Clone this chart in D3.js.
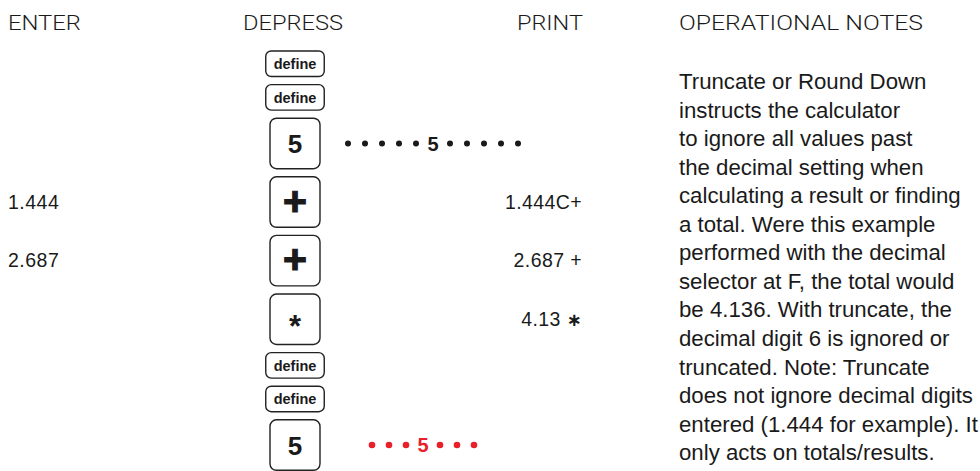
<!DOCTYPE html>
<html><head><meta charset="utf-8">
<script src="https://cdn.jsdelivr.net/npm/d3@7"></script>
<style>html,body{margin:0;padding:0;background:#fff;}svg{display:block;}</style>
</head><body>
<svg id="c" width="980" height="471"></svg>
<script>
// ---- data ----
const headers = ["ENTER", "DEPRESS", "PRINT", "OPERATIONAL NOTES"];
const keys = ["define", "define", "5", "+", "+", "*", "define", "define", "5"];
const keySizes = ["small", "small", "large", "large", "large", "large", "small", "small", "large"];
const enterValues = ["", "", "", "1.444", "2.687", "", "", "", ""];
const printValues = ["", "", "", "1.444C+", "2.687 +", "4.13 ∗", "", "", ""];
const dotRows = [
  {row: 2, pattern: "•••••5•••••", color: "#1a1a1a"},
  {row: 8, pattern: "•••5•••", color: "#e8202a"}
];
const notes = [
  "Truncate or Round Down",
  "instructs the calculator",
  "to ignore all values past",
  "the decimal setting when",
  "calculating a result or finding",
  "a total. Were this example",
  "performed with the decimal",
  "selector at F, the total would",
  "be 4.136. With truncate, the",
  "decimal digit 6 is ignored or",
  "truncated. Note: Truncate",
  "does not ignore decimal digits",
  "entered (1.444 for example). It",
  "only acts on totals/results."
];

// ---- layout ----
const svg = d3.select("#c");
const ink = "#1a1a1a";
const sizeH = {small: 25.5, large: 50.5};
const sizeW = {small: 58.5, large: 50};
const gap = 8.1;
let tops = [], y = 51;
keys.forEach((k, i) => { tops.push(y); y += sizeH[keySizes[i]] + gap; });
const rowCenter = i => tops[i] + sizeH[keySizes[i]] / 2;
const keyCX = 295;

// headers
const headerSpec = [
  {x: 8, anchor: "start", w: 73},
  {x: 293, anchor: "middle", w: 100},
  {x: 583, anchor: "end", w: 66},
  {x: 679, anchor: "start", w: 244}
];
svg.append("g").selectAll("text").data(headers).join("text")
  .attr("x", (d, i) => headerSpec[i].x)
  .attr("y", 29.5)
  .attr("text-anchor", (d, i) => headerSpec[i].anchor)
  .attr("font-family", "Roboto, 'Liberation Sans', sans-serif")
  .attr("font-weight", 300)
  .attr("font-size", 20.5)
  .attr("fill", ink)
  .attr("textLength", (d, i) => headerSpec[i].w)
  .attr("lengthAdjust", "spacingAndGlyphs")
  .text(d => d);

// keys
const kg = svg.append("g").selectAll("g").data(keys).join("g");
kg.append("rect")
  .attr("x", (d, i) => keyCX - sizeW[keySizes[i]] / 2)
  .attr("y", (d, i) => tops[i])
  .attr("width", (d, i) => sizeW[keySizes[i]])
  .attr("height", (d, i) => sizeH[keySizes[i]])
  .attr("rx", (d, i) => keySizes[i] === "small" ? 5.5 : 6.5)
  .attr("fill", "#fff")
  .attr("stroke", "#222")
  .attr("stroke-width", 1.4);
kg.append("text")
  .attr("x", keyCX)
  .attr("y", (d, i) => {
    const c = rowCenter(i);
    if (d === "define") return c + 5.2;
    if (d === "5") return c + 9.5;
    if (d === "+") return c + 12.5;
    return c + 18;
  })
  .attr("text-anchor", "middle")
  .attr("font-family", "'Liberation Sans', Arial, sans-serif")
  .attr("font-weight", "bold")
  .attr("font-size", d => d === "define" ? 14.5 : d === "5" ? 26 : d === "+" ? 41 : 31)
  .attr("stroke", d => d === "+" ? ink : "none")
  .attr("stroke-width", d => d === "+" ? 1.2 : 0)
  .attr("fill", ink)
  .text(d => d);

// enter values
svg.append("g").selectAll("text").data(enterValues).join("text")
  .attr("x", 8)
  .attr("y", (d, i) => rowCenter(i) + 6.5)
  .attr("font-family", "'Liberation Sans', Arial, sans-serif")
  .attr("font-size", 19.5)
  .attr("letter-spacing", 0.5)
  .attr("fill", ink)
  .text(d => d);

// print values
const pt = svg.append("g").selectAll("text").data(printValues).join("text")
  .attr("x", 582)
  .attr("y", (d, i) => rowCenter(i) + 6.5)
  .attr("text-anchor", "end")
  .attr("font-family", "'Liberation Sans', Arial, sans-serif")
  .attr("font-size", 19.5)
  .attr("letter-spacing", 0.4)
  .attr("fill", ink);
pt.each(function(d) {
  const t = d3.select(this);
  if (d.endsWith("∗")) {
    t.append("tspan").text(d.slice(0, -2) + " ");
    t.append("tspan").attr("font-family", "'DejaVu Sans', sans-serif").attr("font-weight", "bold").attr("font-size", 18).text("∗");
  } else t.text(d);
});

// dot rows
const step = 17;
dotRows.forEach(r => {
  const chars = Array.from(r.pattern);
  const mid = (chars.length - 1) / 2;
  const cx0 = r.row === 2 ? 433 : 423;
  const cy = rowCenter(r.row);
  const g = svg.append("g");
  g.selectAll("circle").data(chars.map((c, j) => ({c, j})).filter(d => d.c === "•")).join("circle")
    .attr("cx", d => cx0 + (d.j - mid) * step)
    .attr("cy", cy)
    .attr("r", r.row === 2 ? 3 : 3.3)
    .attr("fill", r.color);
  g.selectAll("text").data(chars.map((c, j) => ({c, j})).filter(d => d.c !== "•")).join("text")
    .attr("x", d => cx0 + (d.j - mid) * step)
    .attr("y", cy + 7.3)
    .attr("text-anchor", "middle")
    .attr("font-family", "'Liberation Sans', Arial, sans-serif")
    .attr("font-weight", "bold")
    .attr("font-size", 20)
    .attr("fill", r.color)
    .text(d => d.c);
});

// notes
const nt = svg.append("g").selectAll("text").data(notes).join("text")
  .attr("x", 679)
  .attr("y", (d, i) => 89 + i * 28.55)
  .attr("font-family", "'Liberation Sans', Arial, sans-serif")
  .attr("font-size", 18)
  .attr("fill", ink)
  .text(d => d);
// fit font size so the widest line spans the measured width
const ref = nt.filter((d) => d === "does not ignore decimal digits").node();
const w = ref.getComputedTextLength();
nt.attr("font-size", 18 * 294 / w);
</script>
</body></html>
